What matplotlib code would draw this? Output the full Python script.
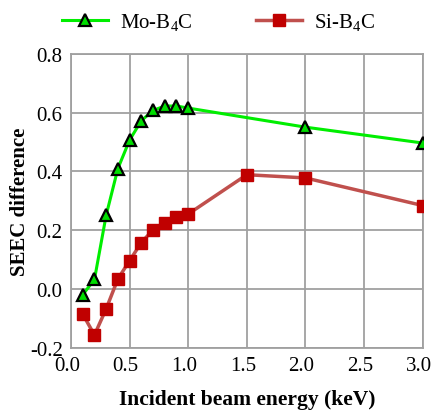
import matplotlib.pyplot as plt
from matplotlib.transforms import ScaledTranslation

# Incident beam energy (keV)
energy_mo = [0.1, 0.2, 0.3, 0.4, 0.5, 0.6, 0.7, 0.8, 0.9, 1.0, 2.0, 3.0]
energy_si = [0.1, 0.2, 0.3, 0.4, 0.5, 0.6, 0.7, 0.8, 0.9, 1.0, 1.5, 2.0, 3.0]

# SEEC difference per system
seec_mo = [-0.02, 0.032, 0.251, 0.41, 0.507, 0.573, 0.608, 0.623, 0.623, 0.616, 0.551, 0.497]
seec_si = [-0.086, -0.157, -0.068, 0.034, 0.096, 0.158, 0.201, 0.226, 0.245, 0.255, 0.389, 0.378, 0.284]

x_ticks = [0.0, 0.5, 1.0, 1.5, 2.0, 2.5, 3.0]
y_ticks = [-0.2, 0.0, 0.2, 0.4, 0.6, 0.8]

plt.rcParams['font.family'] = ['Liberation Serif', 'DejaVu Serif']
plt.rcParams['mathtext.fontset'] = 'custom'
plt.rcParams['mathtext.rm'] = 'Liberation Serif'

fig = plt.figure(figsize=(4.33, 4.14), dpi=100)
ax = fig.add_axes([0.164, 0.158, 0.812, 0.709])

ax.plot(energy_mo, seec_mo, color='#00ee00', lw=2.2, marker='^', ms=8,
        mfc='#00dd00', mec='black', mew=1.6, label=r'Mo-B$_4$C', zorder=3)
ax.plot(energy_si, seec_si, color='#c0504d', lw=2.5, marker='s', ms=8,
        mfc='#c00000', mec='#c00000', label=r'Si-B$_4$C', zorder=3)

ax.set_xlim(0, 3.0)
ax.set_ylim(-0.2, 0.8)
ax.set_xticks(x_ticks)
ax.set_yticks(y_ticks)
ax.set_xticklabels([f'{v:.1f}' for v in x_ticks])
ax.set_yticklabels([f'{v:.1f}' for v in y_ticks])
ax.tick_params(length=0, labelsize=15, pad=6)
ax.grid(True, color='#a0a0a0', lw=1.3)
ax.set_axisbelow(True)
for s in ax.spines.values():
    s.set_color('#a0a0a0')
    s.set_linewidth(1.3)

# nudge the x tick labels a little to the left
shift = ScaledTranslation(-4 / 100, 0, fig.dpi_scale_trans)
for lbl in ax.get_xticklabels():
    lbl.set_transform(lbl.get_transform() + shift)

ax.set_xlabel('Incident beam energy (keV)', fontsize=15.5, fontweight='bold', labelpad=10)
ax.set_ylabel('SEEC difference', fontsize=15, fontweight='bold', labelpad=0)

fig.legend(loc='upper center', bbox_to_anchor=(0.505, 1.015), ncol=2, frameon=False,
           fontsize=15, handlelength=2.2, columnspacing=3.0, handletextpad=0.6)

fig.savefig('out.png', dpi=100)
